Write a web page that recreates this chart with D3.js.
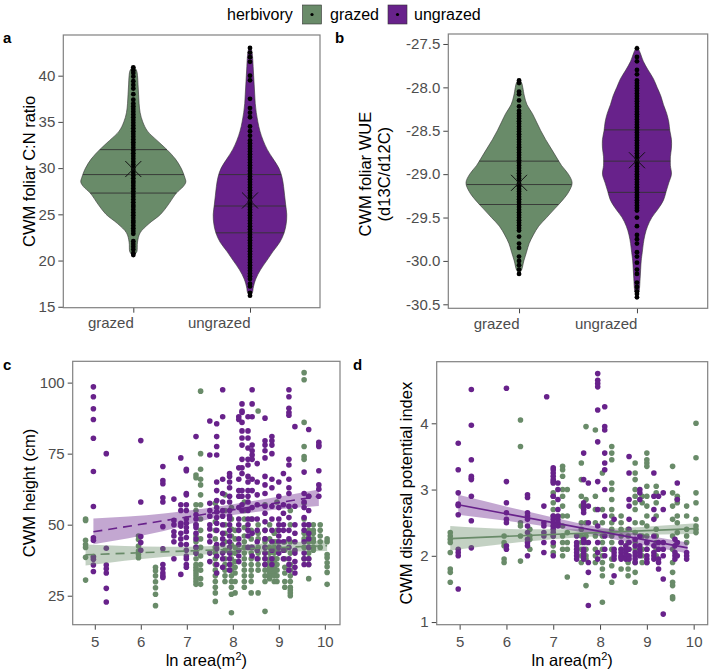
<!DOCTYPE html>
<html><head><meta charset="utf-8">
<script src="https://cdn.jsdelivr.net/npm/d3@7"></script>
<style>
body{margin:0;background:#fff;}
svg{font-family:"Liberation Sans",Arial,Helvetica,sans-serif;}
</style></head><body>
<svg id="chart" width="709" height="670"></svg>
<script>
// ---------------- DATA ----------------
const groups = ["grazed", "ungrazed"];
const groupColors = ["#698B69", "#68228B"];

// Panel a: CWM foliar C:N ratio
const cnTicks = [15, 20, 25, 30, 35, 40];
const cnDensityGrazed = [[20.5,0],[20.8,0.05],[21,0.07],[22,0.08],[23,0.13],[24,0.3],[25,0.52],[26,0.66],[27.3,0.82],[28,0.95],[28.5,1.0],[29,0.98],[30,0.91],[31,0.8],[32,0.64],[33,0.45],[34,0.27],[35,0.18],[36,0.13],[37,0.11],[38,0.1],[39,0.09],[40,0.08],[40.6,0.06],[41,0]];
const cnDensityUngrazed = [[16.2,0],[16.6,0.05],[17,0.06],[18,0.11],[19,0.2],[20,0.32],[21,0.44],[22,0.57],[23,0.65],[24,0.69],[25,0.7],[26,0.68],[27,0.66],[28,0.64],[29,0.61],[30,0.55],[31,0.44],[32,0.33],[33,0.25],[34,0.19],[35,0.15],[36,0.12],[37,0.1],[38,0.09],[39,0.08],[40,0.07],[41,0.06],[42,0.05],[42.8,0.03],[43.1,0]];
const cnQuartilesGrazed = [27.3, 29.3, 32.0];
const cnQuartilesUngrazed = [23.0, 25.9, 29.3];
const cnMeans = [29.9, 26.5];
const cnValuesGrazed = [20.6,20.8,21.2,21.5,21.8,22.1,22.9,23.2,23.5,23.8,24.1,24.3,24.6,24.9,25.2,25.5,25.8,26.0,26.3,26.6,26.9,27.2,27.5,27.8,28.1,28.4,28.6,28.9,29.2,29.5,29.8,30.1,30.4,30.7,31.0,31.3,31.6,31.9,32.2,32.5,32.8,33.1,33.4,33.7,34.0,34.3,34.6,34.9,35.2,35.5,35.8,36.1,36.4,36.7,37.0,37.4,38.0,38.6,39.0,39.4,39.9,40.3,40.6,40.9];
const cnValuesUngrazed = [16.2,16.5,17.2,17.5,18.0,18.3,18.6,18.9,19.2,19.5,19.8,20.1,20.4,20.7,21.0,21.3,21.6,21.9,22.2,22.5,22.8,23.1,23.4,23.7,24.0,24.3,24.6,24.9,25.2,25.5,25.8,26.1,26.4,26.7,27.0,27.3,27.6,27.9,28.2,28.5,28.8,29.1,29.4,29.7,30.0,30.3,30.6,30.9,31.2,31.5,31.8,32.1,32.4,32.7,33.0,33.5,34.0,34.5,35.5,36.0,36.5,37.5,39.5,40.0,41.5,42.0,42.5,43.0];

// Panel b: CWM foliar WUE
const wueTicks = [-30.5, -30.0, -29.5, -29.0, -28.5, -28.0, -27.5];
const wueDensityGrazed = [[-30.15,0],[-30.1,0.05],[-30.0,0.09],[-29.9,0.14],[-29.8,0.19],[-29.7,0.27],[-29.6,0.37],[-29.5,0.52],[-29.4,0.67],[-29.3,0.82],[-29.2,0.94],[-29.1,1.0],[-29.0,0.93],[-28.9,0.8],[-28.8,0.7],[-28.7,0.6],[-28.6,0.5],[-28.5,0.41],[-28.4,0.33],[-28.3,0.25],[-28.2,0.15],[-28.1,0.1],[-28.0,0.07],[-27.95,0.05],[-27.9,0]];
const wueDensityUngrazed = [[-30.42,0],[-30.35,0.04],[-30.2,0.06],[-30.0,0.08],[-29.9,0.1],[-29.8,0.12],[-29.7,0.15],[-29.6,0.2],[-29.5,0.28],[-29.4,0.4],[-29.3,0.5],[-29.2,0.55],[-29.1,0.6],[-29.0,0.65],[-28.9,0.63],[-28.8,0.63],[-28.7,0.65],[-28.6,0.65],[-28.5,0.62],[-28.4,0.6],[-28.3,0.56],[-28.2,0.5],[-28.1,0.45],[-28.0,0.38],[-27.9,0.31],[-27.8,0.21],[-27.7,0.12],[-27.6,0.06],[-27.52,0]];
const wueQuartilesGrazed = [-29.35, -29.12, -28.85];
const wueQuartilesUngrazed = [-29.21, -28.85, -28.49];
const wueMeans = [-29.1, -28.84];
const wueValuesGrazed = [-30.15,-30.1,-30.05,-30.0,-29.95,-29.85,-29.8,-29.72,-29.65,-29.62,-29.59,-29.56,-29.53,-29.5,-29.47,-29.44,-29.41,-29.38,-29.35,-29.32,-29.29,-29.26,-29.23,-29.2,-29.17,-29.14,-29.11,-29.08,-29.05,-29.02,-28.99,-28.96,-28.93,-28.9,-28.87,-28.84,-28.81,-28.78,-28.75,-28.72,-28.69,-28.66,-28.63,-28.6,-28.57,-28.54,-28.51,-28.48,-28.45,-28.42,-28.39,-28.36,-28.33,-28.3,-28.27,-28.22,-28.15,-28.08,-28.05,-27.95,-27.92];
const wueValuesUngrazed = [-30.42,-30.38,-30.35,-30.3,-30.25,-30.15,-30.1,-30.02,-29.95,-29.9,-29.8,-29.75,-29.7,-29.6,-29.5,-29.42,-29.39,-29.36,-29.33,-29.3,-29.27,-29.24,-29.21,-29.18,-29.15,-29.12,-29.09,-29.06,-29.03,-29.0,-28.97,-28.94,-28.91,-28.88,-28.85,-28.82,-28.79,-28.76,-28.73,-28.7,-28.67,-28.64,-28.61,-28.58,-28.55,-28.52,-28.49,-28.46,-28.43,-28.4,-28.37,-28.34,-28.31,-28.28,-28.25,-28.22,-28.19,-28.16,-28.13,-28.1,-28.07,-28.04,-28.01,-27.98,-27.95,-27.92,-27.85,-27.8,-27.7,-27.65,-27.55];

// Panel c: CWM height (cm) vs ln area
const areaTicks = [5, 6, 7, 8, 9, 10];
const heightTicks = [25, 50, 75, 100];
const heightGrazed = [
 [4.8,[52,51.5,44.5,43,42,38.5,30.5]],[4.97,[38.8]],[5.95,[46,44.8,42.5,40.7,39.5,38.4]],
 [6.32,[35,33.8,32,29.9,27.8,25.5,21.5]],
 [7.2,[67.5,66.5,57,55,50,46,44,42,40,38,36,35,34,33,32,31,30,29]],
 [7.3,[97,75,69.5,66,64,60.5,57,52,48,45,42,39,36,34,31,29]],
 [7.62,[57.5,51,48,45,42,40,38,36,34,32,30,28,26,23]],
 [7.83,[60.5,55,50,47,44,41,38,36,34,32,30]],
 [7.97,[56,52,48.5,46,43,40,38,36,34,32,30,28,25.5,19]],
 [8.05,[48,45,42,40,37,35,33,30,26]],
 [8.25,[58,55,52,49,46,44,42,40,38,36,34,32,30,28]],
 [8.4,[52,48,45,42,40,38,36,34,32,30,26]],
 [8.55,[90,50,47,45,42,40,38,36,34,26]],
 [8.7,[57,48,45,44,42,40,38,36,34,32,30,19.5]],
 [8.8,[50,45,42,40,38,37,36,35,34,33,32,31]],
 [8.9,[47,44,42,40,38,37,36,35,34,33,32,30]],
 [8.96,[58,48,44,41,38,36,34,32,30]],
 [9.13,[44,41,38,35,33,30,28]],
 [9.25,[55,50,44,40,36,34,32,30,28,27,26,25]],
 [9.55,[103.5,101,86,77.5,74,73,57.5,52,47,45,42,38]],
 [9.65,[60,50,48,46,44,42,40,38,36,31]],
 [9.75,[50,48,47,45,44,42,41]],
 [9.9,[50,48,46,44,42]],
 [10.05,[45,44,39.5,38.4,36.6,35.2,33.2,29]]
];
const heightUngrazed = [
 [4.97,[98.5,95,90.8,87,80.4,68.7,56.4,45.4,44.5,38.6,37.8,35.8,33.5]],
 [5.25,[75,41.7,35.8,34.5,33,27.6,22.8]],
 [6.0,[79.6,58,45.8,43.7,41]],
 [6.48,[70.5,65.5,64.4,59.5,58,49.3,41.5,36,34.5,33,32,31.4]],
 [6.72,[59,51.5,50,47.5,46,44,38]],
 [6.87,[73.5,57,55,50.5,49.5,47,45,43,32.5]],
 [6.99,[69.5,69,61,60.5,57,55,52,50.5,49,47.5,45.5,43,41,39,38,36,35]],
 [7.2,[81,53.5,52,50,49,47,45,42,40]],
 [7.5,[86.5,74.5,57.5,55,53,50,48.5,46,44,40,37]],
 [7.65,[85.5,81,77.5,74.5,65,62,58.5,56,54.5,52.5,50.5,48,43,41.5,39,36,33]],
 [7.78,[97.5,88,66,61,58,55,53,50,47,45,43,40,38,35]],
 [7.93,[68,67,65,63,60,58,55,53,52,50,48,46,44,42,40,38,36,34]],
 [8.13,[88,87,70,66,62,60,56,52,50,48,45,43,41,39,37]],
 [8.2,[92.5,90,89.5,86,83,80.5,78,73,70,68,62,60,57,55]],
 [8.33,[88,83,80.5,77,73,71,67,65,62,60,58,55,52,50,48,46,42]],
 [8.42,[97.5,92.5,88,78,76,74.5,73,66,62,56,52,47,42,39]],
 [8.53,[71.5,65,60.5,57,52,48,44,41,38]],
 [8.7,[87.5,79.5,78,76,73.5,67,64,61,56.5,54,51,48,45,42,40,38,36]],
 [8.85,[81,79.5,78,75,66,63,56.5,52,48,44,41,38,36]],
 [9.0,[65,60,56,52,50,48,46,44,42,40]],
 [9.1,[68,57,54,50,48,44,41,38]],
 [9.22,[97.5,95,91,89.5,88.5,73,71,66,63,61,56.5,52.5,48,45,42,38,36,34]],
 [9.35,[84.5,56.5,50,47,44,41,40,37,35,33]],
 [9.55,[68.5,61,58,56,52.5,50,48,44,40,38,36]],
 [9.65,[83.5,60,55,50,47,45,42,38,36]],
 [9.87,[79,78,77.5,69,64,62.5,60]]
];
// fitted lm: [x, lower, fit, upper]
const heightFitGrazed = [[4.8,35.6,39.4,43.0],[6.5,38.6,40.4,42.2],[7.6,39.7,41.1,42.5],[8.5,40.2,41.7,43.2],[10.05,40.7,42.6,44.5]];
const heightFitUngrazed = [[4.97,43.1,47.5,52.2],[6.5,47.8,51.3,53.9],[7.5,52.0,54.0,56.0],[8.5,54.5,56.5,58.5],[9.87,56.6,60.0,62.4]];

// Panel d: CWM dispersal potential index vs ln area
const dispersalTicks = [1, 2, 3, 4];
const dispersalGrazed = [
 [4.8,[2.35,2.3,2.25,2.2,2.05,1.8,1.75,1.6]],[5.95,[2.3,2.2,2.15,1.95,1.9]],
 [6.3,[4.05,3.65,2.5,2.45,2.3,1.92]],[6.5,[2.4,2.3,2.25,2.1]],
 [7.0,[2.95,2.9,2.8,2.7,2.6,2.45,2.3,2.15,2.05]],
 [7.2,[3.35,3.3,3.2,3.0,2.9,2.75,2.6,2.45,2.3,2.2,2.1,2.0]],
 [7.3,[3.0,2.6,2.35,2.2,2.1,1.68]],
 [7.6,[3.4,3.15,2.9,2.75,2.5,2.4,2.3,2.2,2.1,2.0,1.9]],
 [7.7,[3.95,2.85,2.5,2.3,2.2,2.1,2.0,1.95,1.55]],
 [7.9,[3.9,2.9,2.7,2.5,2.3,2.1,2.0,1.9]],
 [8.05,[3.25,2.7,2.5,2.3,2.2,2.1,2.0,1.9,1.8,1.7,1.3]],
 [8.25,[3.65,3.55,3.45,3.1,3.0,2.85,2.7,2.6,2.5,2.4,2.3,2.2,2.1,1.95,1.85,1.6]],
 [8.45,[2.6,2.5,2.4,2.3,2.2,2.1,1.8]],
 [8.6,[2.4,2.3,2.2,2.1,1.9,1.8,1.7]],
 [8.75,[3.4,3.25,3.15,3.0,2.9,2.8,2.7,2.5,2.35,2.2,2.1,1.9,1.75,1.6]],
 [8.9,[2.9,2.8,2.5,2.3,2.1,2.0,1.9]],
 [9.0,[3.55,3.45,3.4,3.35,3.05,2.9,2.75,2.6,2.45,2.3,2.2,2.1,1.9]],
 [9.2,[3.05,2.95,2.8,2.6,2.4,2.3,2.2,2.1,2.0]],
 [9.55,[3.35,2.95,2.75,2.55,2.3,2.1,1.9,1.75,1.6,1.55,1.38,1.35]],
 [9.65,[2.9,2.85,2.8,2.6,2.5,2.35,2.2]],
 [9.85,[2.75,2.6,2.4,2.3,2.2]],
 [10.05,[4.0,3.48,2.95,2.8,2.55,2.45,2.4,2.35]]
];
const dispersalUngrazed = [
 [4.97,[3.7,3.3,2.95,2.78,2.76,2.62,2.1,2.05,2.0,1.5]],
 [5.25,[4.51,3.97,3.45,3.2,3.17,3.15,2.9,2.53,2.12]],
 [6.0,[4.53,3.12,2.8,2.65,2.55,2.5,2.15,2.1]],
 [6.45,[2.92,2.88,2.65,2.6,2.55,2.45,2.35,2.25,2.2,2.15,2.0]],
 [6.8,[2.75,2.5,2.45,2.35,2.3,2.2,2.05]],
 [6.86,[4.4]],
 [7.0,[3.33,3.3,3.25,3.2,3.15,3.12,3.1,2.9,2.6,2.55,2.5,2.45,2.4,2.35,2.3,2.2,2.0]],
 [7.1,[3.1,3.0,2.85,2.7,2.6,2.55,2.5,2.45]],
 [7.5,[2.3,2.2,2.15,2.1,2.05,2.0,1.95]],
 [7.65,[3.55,3.15,2.8,2.75,2.7,2.65,2.25,2.2,2.1,2.05,2.0,1.95]],
 [7.75,[3.1,2.75,2.5,2.2,1.9,1.75,1.25]],
 [7.95,[4.75,4.65,4.6,4.55,4.2,3.72,3.12,2.7,2.45,2.2,2.05,1.95]],
 [8.1,[4.25,3.95,3.9,3.55,3.4,3.3,3.0,2.6,2.3,2.1,2.0]],
 [8.3,[2.55,2.1,2.05,2.0,1.95,1.7]],
 [8.45,[2.2,2.1,2.05,2.0,1.98,1.95]],
 [8.55,[2.15,2.1,2.05,2.0,1.95]],
 [8.62,[3.5,3.25,2.85,2.75,2.55,2.4,2.2,2.1,2.0,1.95]],
 [8.75,[2.25,2.15,2.05,2.0,1.95,1.9]],
 [8.85,[3.0,2.95,2.85,2.3,2.15,2.1,2.05,2.0]],
 [9.0,[2.2,2.1,2.0,1.95,1.9]],
 [9.15,[3.25,2.9,2.7,2.55,2.3,2.15,2.05,2.0,1.95]],
 [9.25,[2.9,2.2,2.1,1.95,1.9,1.8]],
 [9.35,[2.95,2.7,2.2,2.1,2.0,1.65,1.12]],
 [9.6,[2.25,2.15,2.05,2.0,1.95]],
 [9.65,[3.1,2.85,2.2,2.0]],
 [9.85,[2.05,2.0,1.95]]
];
const dispersalFitGrazed = [[4.8,2.08,2.26,2.45],[6.5,2.22,2.31,2.40],[7.6,2.28,2.34,2.40],[8.5,2.31,2.37,2.42],[10.05,2.33,2.41,2.49]];
const dispersalFitUngrazed = [[4.97,2.62,2.77,2.92],[6.5,2.48,2.57,2.66],[7.5,2.37,2.43,2.50],[8.5,2.22,2.30,2.37],[9.87,2.04,2.12,2.20]];

// ---------------- DRAWING ----------------
const svg = d3.select("#chart");
const TICK_COL = "#4D4D4D", BORDER = "#808080";
const TICK_FS = 15, TITLE_FS = 16.5;
const intFmt = d => String(d);
const oneDec = d => d.toFixed(1);

function styleAxis(g) {
  g.select(".domain").remove();
  g.selectAll(".tick line").attr("stroke", "#444").attr("stroke-width", 1);
  g.selectAll(".tick text").attr("fill", TICK_COL).style("font-size", TICK_FS + "px")
    .style("font-family", '"Liberation Sans",Arial,sans-serif');
}
function border(box) {
  svg.append("rect").attr("x", box.x0).attr("y", box.y0)
    .attr("width", box.x1 - box.x0).attr("height", box.y1 - box.y0)
    .attr("fill", "none").attr("stroke", BORDER).attr("stroke-width", 1.2);
}
function interpWidth(dens, v) {
  for (let i = 0; i < dens.length - 1; i++) {
    const a = dens[i], b = dens[i + 1];
    if (v >= a[0] && v <= b[0]) return a[1] + (b[1] - a[1]) * (v - a[0]) / (b[0] - a[0]);
  }
  return 0;
}

function violinPanel(box, yDomain, yTicks, tickFmt, densities, quartiles, means, values, label, titleLines, titleX) {
  const x = d3.scalePoint().domain(groups).range([box.x0, box.x1]).padding(0.6);
  const y = d3.scaleLinear().domain(yDomain).range([box.y1, box.y0]);
  const maxHalf = 0.45 * x.step();
  const w = d3.scaleLinear().domain([0, 1]).range([0, maxHalf]);
  const g = svg.append("g");
  groups.forEach((grp, i) => {
    const cx = x(grp);
    const dens = densities[i];
    const area = d3.area().curve(d3.curveCatmullRom)
      .y(d => y(d[0])).x0(d => cx - w(d[1])).x1(d => cx + w(d[1]));
    g.append("path").attr("d", area(dens)).attr("fill", groupColors[i])
      .attr("stroke", "#333").attr("stroke-width", 0.6);
    quartiles[i].forEach(q => {
      const hw = w(interpWidth(dens, q));
      g.append("line").attr("x1", cx - hw).attr("x2", cx + hw)
        .attr("y1", y(q)).attr("y2", y(q)).attr("stroke", "#333").attr("stroke-width", 0.9);
    });
    g.selectAll(null).data(values[i]).enter().append("circle")
      .attr("cx", cx).attr("cy", d => y(d)).attr("r", 2.4).attr("fill", "#000");
    const my = y(means[i]);
    g.append("path").attr("d", `M${cx-8},${my-8}L${cx+8},${my+8}M${cx-8},${my+8}L${cx+8},${my-8}`)
      .attr("stroke", "#111").attr("stroke-width", 1);
  });
  const ya = svg.append("g").attr("transform", `translate(${box.x0},0)`)
    .call(d3.axisLeft(y).tickValues(yTicks).tickFormat(tickFmt).tickSize(5).tickPadding(3));
  styleAxis(ya);
  const xa = svg.append("g").attr("transform", `translate(0,${box.y1})`)
    .call(d3.axisBottom(x).tickSize(5).tickPadding(4));
  styleAxis(xa);
  xa.selectAll(".tick text").attr("dy", null).attr("y", 20.5).attr("text-anchor", "end");
  border(box);
  svg.append("text").attr("x", label.x).attr("y", label.y).text(label.t)
    .style("font-weight", "bold").style("font-size", "15px");
  const cy = (box.y0 + box.y1) / 2 + (titleLines.length > 1 ? 3 : 0);
  titleLines.forEach((t, k) => {
    svg.append("text").attr("transform", `translate(${titleX[k]},${cy}) rotate(-90)`)
      .attr("text-anchor", "middle").style("font-size", TITLE_FS + "px").attr("fill", "#000").text(t);
  });
}

function scatterPanel(box, xDomain, yDomain, yTicks, seriesList, fits, dashed, label, title, titleX) {
  const x = d3.scaleLinear().domain(xDomain).range([box.x0, box.x1]);
  const y = d3.scaleLinear().domain(yDomain).range([box.y1, box.y0]);
  const g = svg.append("g");
  const order = [0, 1];
  order.forEach(i => {
    const pts = seriesList[i].flatMap(([xv, ys]) => ys.map(yv => [xv, yv]));
    g.selectAll(null).data(pts).enter().append("circle")
      .attr("cx", d => x(d[0])).attr("cy", d => y(d[1])).attr("r", 2.8)
      .attr("fill", groupColors[i]);
  });
  order.forEach(i => {
    const f = fits[i];
    const band = d3.area().curve(d3.curveMonotoneX)
      .x(d => x(d[0])).y0(d => y(d[1])).y1(d => y(d[3]));
    g.append("path").attr("d", band(f)).attr("fill", groupColors[i]).attr("fill-opacity", 0.4);
  });
  order.forEach(i => {
    const f = fits[i];
    const ln = d3.line().x(d => x(d[0])).y(d => y(d[2]));
    const p = g.append("path").attr("d", ln([f[0], f[f.length - 1]])).attr("fill", "none")
      .attr("stroke", groupColors[i]).attr("stroke-width", 1.6);
    if (dashed) p.attr("stroke-dasharray", "9,6");
  });
  const ya = svg.append("g").attr("transform", `translate(${box.x0},0)`)
    .call(d3.axisLeft(y).tickValues(yTicks).tickFormat(intFmt).tickSize(5).tickPadding(3));
  styleAxis(ya);
  const xa = svg.append("g").attr("transform", `translate(0,${box.y1})`)
    .call(d3.axisBottom(x).tickValues(areaTicks).tickFormat(intFmt).tickSize(5).tickPadding(4));
  styleAxis(xa);
  xa.selectAll(".tick text").attr("dy", null).attr("y", 22.5);
  border(box);
  svg.append("text").attr("x", label.x).attr("y", label.y).text(label.t)
    .style("font-weight", "bold").style("font-size", "15px");
  svg.append("text").attr("transform", `translate(${titleX},${(box.y0 + box.y1) / 2}) rotate(-90)`)
    .attr("text-anchor", "middle").style("font-size", TITLE_FS + "px").text(title);
  const xt = svg.append("text").attr("x", (box.x0 + box.x1) / 2).attr("y", 666)
    .attr("text-anchor", "middle").style("font-size", TITLE_FS + "px");
  xt.append("tspan").text("ln area(m");
  xt.append("tspan").attr("dy", -6.5).style("font-size", "11px").text("2");
  xt.append("tspan").attr("dy", 6.5).text(")");
}

// Panel a
violinPanel({x0: 63.3, x1: 320, y0: 35, y1: 307.7}, [14.9, 44.4], cnTicks, intFmt,
  [cnDensityGrazed, cnDensityUngrazed], [cnQuartilesGrazed, cnQuartilesUngrazed], cnMeans,
  [cnValuesGrazed, cnValuesUngrazed], {x: 3, y: 43, t: "a"}, ["CWM foliar C:N ratio"], [35]);
// Panel b
violinPanel({x0: 448.3, x1: 707.7, y0: 34, y1: 308.3}, [-30.546, -27.385], wueTicks, oneDec,
  [wueDensityGrazed, wueDensityUngrazed], [wueQuartilesGrazed, wueQuartilesUngrazed], wueMeans,
  [wueValuesGrazed, wueValuesUngrazed], {x: 335, y: 43, t: "b"}, ["CWM foliar WUE", "(d13C/d12C)"], [371, 390]);
// Panel c
scatterPanel({x0: 72.7, x1: 340, y0: 361.3, y1: 624.7}, [4.52, 10.33], [14.8, 107.5], heightTicks,
  [heightGrazed, heightUngrazed], [heightFitGrazed, heightFitUngrazed], true,
  {x: 3, y: 370, t: "c"}, "CWM height (cm)", 35);
// Panel d
scatterPanel({x0: 436.7, x1: 707.7, y0: 361.7, y1: 624.7}, [4.51, 10.3], [0.96, 4.93], dispersalTicks,
  [dispersalGrazed, dispersalUngrazed], [dispersalFitGrazed, dispersalFitUngrazed], false,
  {x: 353, y: 370, t: "d"}, "CWM dispersal potential index", 412);

// Legend
const leg = svg.append("g").style("font-size", "16px");
leg.append("text").attr("x", 227).attr("y", 20).text("herbivory");
const legItems = [{x: 302.5, tx: 330}, {x: 388, tx: 414}];
groups.forEach((grp, i) => {
  leg.append("rect").attr("x", legItems[i].x).attr("y", 5).attr("width", 19).attr("height", 19)
    .attr("fill", groupColors[i]).attr("stroke", "#333").attr("stroke-width", 0.6);
  leg.append("circle").attr("cx", legItems[i].x + 9.5).attr("cy", 14.5).attr("r", 1.6).attr("fill", "#000");
  leg.append("text").attr("x", legItems[i].tx).attr("y", 20).text(grp);
});
</script></body></html>
